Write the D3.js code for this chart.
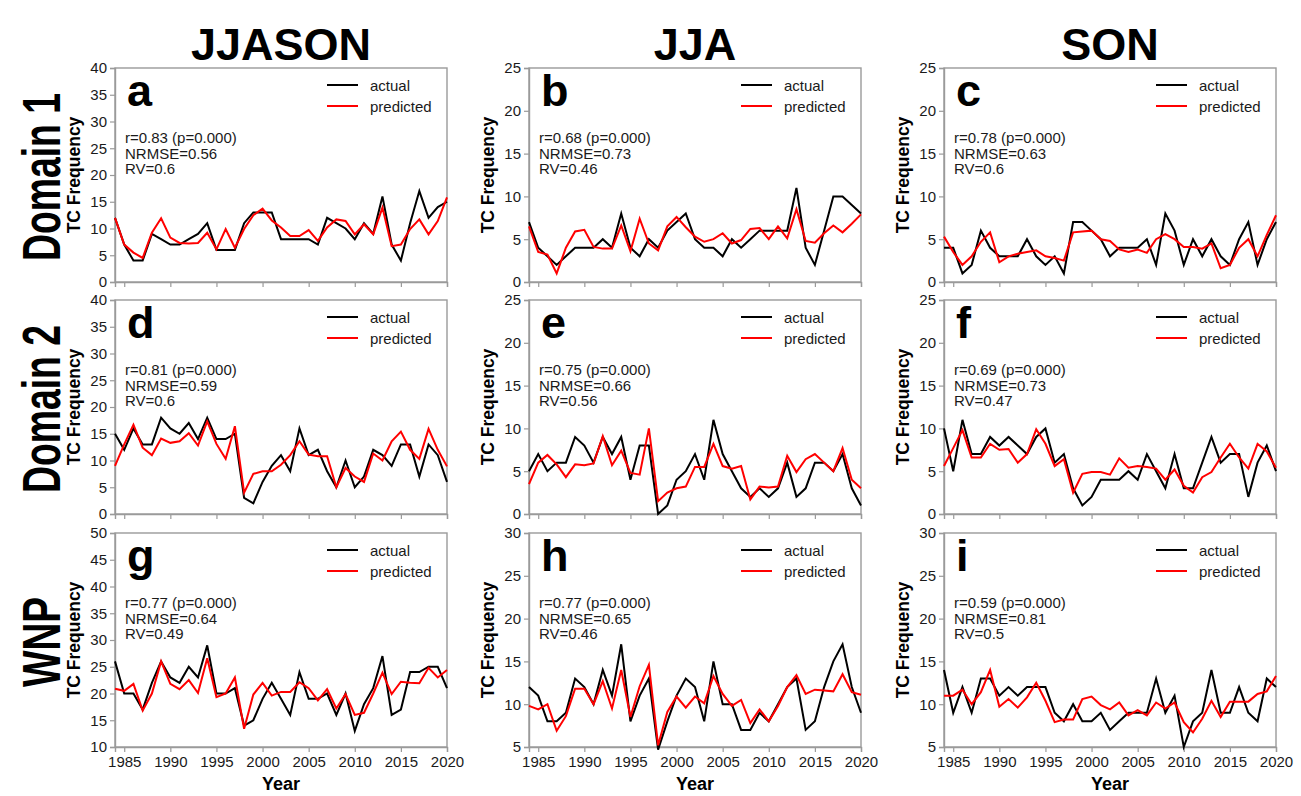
<!DOCTYPE html>
<html>
<head>
<meta charset="utf-8">
<script src="https://cdn.jsdelivr.net/npm/d3@7"></script>
<style>
  body { margin: 0; background: #fff; }
  svg { display: block; font-family: "Liberation Sans", Arial, sans-serif; }
</style>
</head>
<body>
<div id="chart"></div>
<script>
"use strict";

//Years on the x axis (one value per season).
var years = [1984, 1985, 1986, 1987, 1988, 1989, 1990, 1991, 1992, 1993,
    1994, 1995, 1996, 1997, 1998, 1999, 2000, 2001, 2002, 2003, 2004, 2005,
    2006, 2007, 2008, 2009, 2010, 2011, 2012, 2013, 2014, 2015, 2016, 2017,
    2018, 2019, 2020];
var yearTicks = [1985, 1990, 1995, 2000, 2005, 2010, 2015, 2020];

var seasons = ["JJASON", "JJA", "SON"];
var regions = ["Domain 1", "Domain 2", "WNP"];
var panelLetters = ["a", "b", "c", "d", "e", "f", "g", "h", "i"];

//y axis range of each panel
var yDomains = [[0, 40], [0, 25], [0, 25],
    [0, 40], [0, 25], [0, 25],
    [10, 50], [5, 30], [5, 30]];

var statsText = [
    ["r=0.83 (p=0.000)", "NRMSE=0.56", "RV=0.6"],
    ["r=0.68 (p=0.000)", "NRMSE=0.73", "RV=0.46"],
    ["r=0.78 (p=0.000)", "NRMSE=0.63", "RV=0.6"],
    ["r=0.81 (p=0.000)", "NRMSE=0.59", "RV=0.6"],
    ["r=0.75 (p=0.000)", "NRMSE=0.66", "RV=0.56"],
    ["r=0.69 (p=0.000)", "NRMSE=0.73", "RV=0.47"],
    ["r=0.77 (p=0.000)", "NRMSE=0.64", "RV=0.49"],
    ["r=0.77 (p=0.000)", "NRMSE=0.65", "RV=0.46"],
    ["r=0.59 (p=0.000)", "NRMSE=0.81", "RV=0.5"]
];

//Domain 1
var actualA = [12, 7, 4, 4, 9, 8, 7, 7, 8, 9, 11, 6, 6, 6, 11, 13, 13, 13, 8, 8,
    8, 8, 7, 12, 11, 10, 8, 11, 9, 16, 7, 4, 11, 17, 12, 14, 15];
var predA = [12, 7, 5.5, 4.5, 9.2, 11.9, 8.3, 7.3, 7.2, 7.3, 9.2, 6.1, 9.9, 6.4,
    9.9, 12.5, 13.7, 11.5, 10.2, 8.6, 8.6, 9.7, 7.7, 10.2, 11.7, 11.4, 8.9,
    10.8, 8.9, 13.9, 6.7, 7, 9.9, 11.7, 8.9, 11.4, 15.8];
var actualB = [7, 4, 3, 2, 3, 4, 4, 4, 5, 4, 8, 4, 3, 5, 4, 6, 7, 8, 5, 4, 4, 3,
    5, 4, 5, 6, 6, 6, 6, 11, 4, 2, 6, 10, 10, 9, 8];
var predB = [6.5, 3.5, 3.2, 1, 4, 5.9, 6.1, 4.1, 3.9, 3.9, 6.6, 3.6, 7.4, 4.5,
    3.7, 6.5, 7.6, 6.4, 5.3, 4.7, 5, 5.7, 4.5, 4.9, 6.2, 6.3, 5, 6.5, 5.1, 8.5,
    4.8, 4.6, 5.7, 6.6, 5.8, 6.8, 7.9];
var actualC = [4, 4, 1, 2, 6, 4, 3, 3, 3, 5, 3, 2, 3, 1, 7, 7, 6, 5, 3, 4, 4, 4,
    5, 2, 8, 6, 2, 5, 3, 5, 3, 2, 5, 7, 2, 5, 7];
var predC = [5.3, 3.5, 2, 3, 4.7, 5.8, 2.3, 3, 3.3, 3.5, 3.7, 3, 2.8, 2.5, 5.8,
    5.9, 6, 5, 4.8, 3.8, 3.5, 3.8, 3.4, 5, 5.6, 5, 4.1, 4.1, 3.9, 4.5, 1.6, 2,
    4, 5, 3, 5.5, 7.8];

//Domain 2
var actualD = [15, 12, 16, 13, 13, 18, 16, 15, 17, 14, 18, 14, 14, 15, 3, 2, 6,
    9, 11, 8, 16, 11, 12, 8, 5, 10, 5, 7, 12, 11, 9, 13, 13, 7, 13, 11, 6];
var predD = [9, 13, 16.7, 12.4, 11, 14.1, 13.3, 13.6, 15.1, 12.8, 17.3, 13.1,
    10.3, 16.4, 4, 7.5, 8, 8, 9.2, 11, 13.6, 11.1, 10.8, 10.8, 5, 8.6, 7, 6,
    11.3, 10, 13.6, 15.4, 12, 10.3, 15.9, 12, 8.9];
var actualE = [5, 7, 5, 6, 6, 9, 8, 6, 9, 7, 9, 4, 8, 8, 0, 1, 4, 5, 7, 4, 11, 7,
    5, 3, 2, 3, 2, 3, 6, 2, 3, 6, 6, 5, 7, 3, 1];
var predE = [3.5, 6, 6.9, 5.8, 4.3, 5.8, 5.7, 5.9, 9.1, 5.7, 7.4, 4.8, 4.6, 10,
    1.5, 2.5, 3, 3.2, 5.5, 5.5, 8.2, 5.6, 5.3, 5.6, 1.7, 3.2, 3.1, 3.2, 6.8,
    4.9, 6.4, 7, 6, 5, 7.7, 4, 3];
var actualF = [10, 5, 11, 7, 7, 9, 8, 9, 8, 7, 9, 10, 6, 7, 3, 1, 2, 4, 4, 4, 5,
    4, 7, 5, 3, 7, 3, 3, 6, 9, 6, 7, 7, 2, 6, 8, 5];
var predF = [5.6, 7.7, 9.8, 6.6, 6.6, 8.2, 7.5, 7.6, 6, 7, 9.9, 8.2, 5.6, 6.4,
    2.5, 4.7, 4.9, 4.9, 4.6, 6.5, 5.4, 5.6, 5.5, 5.3, 4, 5.2, 3.3, 2.5, 4.3,
    4.9, 6.6, 8.2, 6.6, 5.3, 8.2, 7.3, 5.4];

//WNP
var actualG = [26, 20, 20, 17, 22, 26, 23, 22, 25, 23, 29, 20, 20, 21, 14, 15,
    19, 22, 19, 16, 24, 19, 19, 20, 16, 20, 13, 18, 21, 27, 16, 17, 24, 24, 25,
    25, 21];
var predG = [20.9, 20.5, 21.8, 16.8, 20, 26, 21.8, 20.8, 22.5, 20.1, 26.6, 19.3,
    20, 23, 13.4, 19.8, 22, 19.6, 20.3, 20.3, 22.1, 21, 18.7, 20.8, 17.2, 19.9,
    16, 16.4, 20, 23.9, 19.9, 22.2, 22, 21.9, 24.8, 23, 24.4];
var actualH = [12, 11, 8, 8, 9, 13, 12, 10, 14, 11, 17, 8, 11, 13, 4.7, 8, 11,
    13, 12, 8, 15, 10, 10, 7, 7, 9, 8, 10, 12, 13, 7, 8, 12, 15, 17, 12, 9];
var predH = [9.8, 9.4, 10, 6.9, 8.6, 11.8, 11.8, 10, 12.7, 9.5, 14, 8.5, 12.1,
    14.6, 5.2, 9.1, 10.9, 9.6, 10.9, 10.1, 13.3, 11.2, 9.8, 10.5, 7.8, 9.4, 8,
    9.8, 12, 13.4, 11.2, 11.7, 11.6, 11.5, 13.5, 11.4, 11.1];
var actualI = [14, 9, 12, 9, 13, 13, 11, 12, 11, 12, 12, 12, 9, 8, 10, 8, 8, 9,
    7, 8, 9, 9, 9, 13, 9, 11, 5, 8, 9, 14, 9, 9, 12, 9, 8, 13, 12];
var predI = [11, 11, 11.7, 10, 11.4, 14, 9.7, 10.6, 9.6, 10.8, 12.5, 10.4, 7.9,
    8.2, 8.2, 10.6, 10.9, 9.9, 9.4, 10.2, 8.7, 9.3, 8.7, 10.2, 9.5, 10.2, 7.9,
    6.7, 8.3, 10.4, 8.5, 10.3, 10.3, 10.3, 11.2, 11.5, 13.3];

var actualSeries = [actualA, actualB, actualC, actualD, actualE, actualF,
    actualG, actualH, actualI];
var predSeries = [predA, predB, predC, predD, predE, predF, predG, predH, predI];

//Sets the size and place of the panels.
var width = 1301,
        height = 796,
        panelW = 332,
        panelH = 214,
        colX = [115, 529, 944],
        rowY = [68, 300, 533];

var axisColor = "#9a9a9a",
        textColor = "#1a1a1a";

var svg = d3.select("#chart")
        .append("svg")
        .attr("width", width)
        .attr("height", height);

svg.append("rect")
        .attr("width", width)
        .attr("height", height)
        .attr("fill", "#fff");

//column titles (seasons)
svg.selectAll("text.season")
        .data(seasons)
        .enter()
        .append("text")
        .attr("class", "season")
        .attr("x", function (d, i) {
            return colX[i] + panelW / 2;
        })
        .attr("y", 60)
        .attr("text-anchor", "middle")
        .style("font-size", "45px")
        .style("font-weight", "bold")
        .style("fill", "#000")
        .text(function (d) {
            return d;
        });

//row titles (regions), narrow bold and rotated
svg.selectAll("text.region")
        .data(regions)
        .enter()
        .append("text")
        .attr("class", "region")
        .attr("transform", function (d, i) {
            return "translate(60," + (rowY[i] + panelH / 2 + 2) + ") rotate(-90)";
        })
        .attr("text-anchor", "middle")
        .attr("textLength", function (d) {
            return d === "WNP" ? 90 : 168;
        })
        .attr("lengthAdjust", "spacingAndGlyphs")
        .style("font-family", "'Liberation Sans Narrow', 'Arial Narrow', 'Liberation Sans', sans-serif")
        .style("font-size", "54px")
        .style("font-weight", "bold")
        .style("fill", "#000")
        .text(function (d) {
            return d;
        });

var x = d3.scaleLinear()
        .domain([years[0], years[years.length - 1]])
        .range([0, panelW]);

panelLetters.forEach(function (letter, k) {
    var row = Math.floor(k / 3),
            col = k % 3;
    var dom = yDomains[k];

    var g = svg.append("g")
            .attr("transform", "translate(" + colX[col] + "," + rowY[row] + ")");

    var y = d3.scaleLinear()
            .domain(dom)
            .range([panelH, 0]);

    //y axis
    var yAxis = g.append("g")
            .call(d3.axisLeft(y)
                    .tickValues(d3.range(dom[0], dom[1] + 1, 5))
                    .tickSize(5)
                    .tickPadding(3));

    //x axis, labels only on the bottom row
    var xAxis = g.append("g")
            .attr("transform", "translate(0," + panelH + ")")
            .call(d3.axisBottom(x)
                    .tickValues(yearTicks)
                    .tickSize(5)
                    .tickPadding(4)
                    .tickFormat(row === 2 ? d3.format("d") : ""));

    [yAxis, xAxis].forEach(function (a) {
        a.select(".domain").attr("stroke", axisColor).attr("stroke-width", 1.4);
        a.selectAll(".tick line").attr("stroke", axisColor).attr("stroke-width", 1.2);
        a.selectAll(".tick text")
                .style("font-size", "15px")
                .style("fill", textColor);
    });

    //box round the plot
    g.append("rect")
            .attr("width", panelW)
            .attr("height", panelH)
            .attr("fill", "none")
            .attr("stroke", axisColor)
            .attr("stroke-width", 1.4);

    var line = d3.line()
            .x(function (d, i) {
                return x(years[i]);
            })
            .y(function (d) {
                return y(d);
            });

    g.append("path")
            .datum(actualSeries[k])
            .attr("d", line)
            .attr("fill", "none")
            .attr("stroke", "#000")
            .attr("stroke-width", 2)
            .attr("stroke-linejoin", "miter");

    g.append("path")
            .datum(predSeries[k])
            .attr("d", line)
            .attr("fill", "none")
            .attr("stroke", "#ff0000")
            .attr("stroke-width", 2);

    //panel letter
    g.append("text")
            .attr("x", 12)
            .attr("y", 38)
            .style("font-size", "45px")
            .style("font-weight", "bold")
            .style("fill", "#000")
            .text(letter);

    //stats
    g.selectAll("text.stat")
            .data(statsText[k])
            .enter()
            .append("text")
            .attr("class", "stat")
            .attr("x", 10)
            .attr("y", function (d, i) {
                return 75 + i * 15.5;
            })
            .style("font-size", "15px")
            .style("fill", textColor)
            .text(function (d) {
                return d;
            });

    //legend
    var legend = g.selectAll("g.legend")
            .data([["actual", "#000"], ["predicted", "#ff0000"]])
            .enter()
            .append("g")
            .attr("class", "legend")
            .attr("transform", function (d, i) {
                return "translate(212," + (17 + i * 21) + ")";
            });
    legend.append("line")
            .attr("x1", 0)
            .attr("x2", 31)
            .attr("stroke", function (d) {
                return d[1];
            })
            .attr("stroke-width", 2);
    legend.append("text")
            .attr("x", 43)
            .attr("y", 5.5)
            .style("font-size", "15px")
            .style("fill", textColor)
            .text(function (d) {
                return d[0];
            });

    //y title
    g.append("text")
            .attr("transform", "translate(-35," + panelH / 2 + ") rotate(-90)")
            .attr("text-anchor", "middle")
            .style("font-size", "17.5px")
            .style("font-weight", "bold")
            .style("fill", "#000")
            .text("TC Frequency");

    //x title
    if (row === 2) {
        g.append("text")
                .attr("x", panelW / 2)
                .attr("y", panelH + 43)
                .attr("text-anchor", "middle")
                .style("font-size", "18px")
                .style("font-weight", "bold")
                .style("fill", "#000")
                .text("Year");
    }
});
</script>
</body>
</html>
